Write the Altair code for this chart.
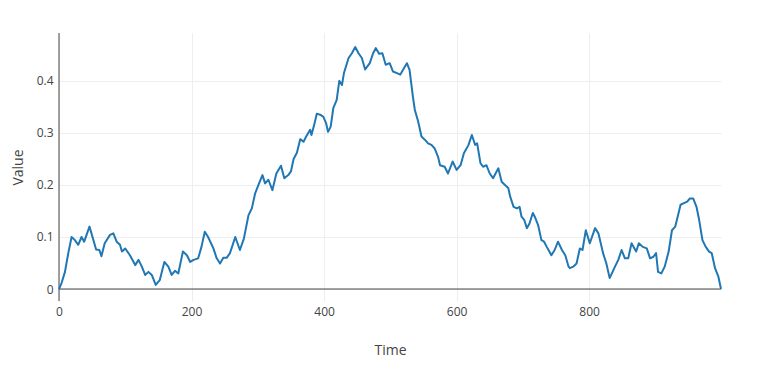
import altair as alt
import pandas as pd

time = [0, 4, 9, 14, 19, 24, 29, 34, 38, 46, 49, 56, 61, 64, 69, 77, 82, 87, 92, 95,
        100, 107, 115, 120, 125, 130, 135, 140, 146, 152, 159, 165, 170, 175, 180, 187,
        193, 198, 203, 210, 215, 220, 225, 233, 238, 243, 248, 253, 258, 266, 273, 279,
        286, 291, 296, 301, 307, 311, 316, 322, 328, 335, 340, 346, 350, 354, 359, 364,
        369, 373, 379, 381, 385, 389, 394, 399, 403, 406, 410, 414, 419, 423, 427, 430,
        437, 442, 447, 452, 457, 462, 469, 474, 478, 483, 488, 493, 499, 504, 510, 515,
        519, 525, 529, 534, 537, 542, 547, 552, 557, 562, 567, 572, 575, 582, 587, 594,
        600, 606, 611, 618, 623, 628, 631, 636, 640, 645, 650, 655, 663, 668, 673, 678,
        681, 686, 691, 695, 698, 702, 706, 710, 715, 718, 723, 728, 732, 736, 740, 743,
        748, 753, 759, 764, 769, 771, 776, 781, 786, 790, 795, 801, 809, 814, 821, 826,
        831, 839, 844, 849, 854, 859, 864, 871, 875, 881, 887, 892, 897, 901, 904, 909,
        914, 920, 925, 930, 935, 938, 943, 948, 952, 957, 962, 966, 971, 976, 981, 985,
        990, 995, 999]
value = [0.0, 0.012, 0.033, 0.069, 0.100, 0.094, 0.085, 0.100, 0.091, 0.120, 0.107,
         0.076, 0.075, 0.063, 0.088, 0.104, 0.107, 0.091, 0.085, 0.072, 0.078, 0.065,
         0.046, 0.056, 0.043, 0.027, 0.033, 0.027, 0.008, 0.017, 0.052, 0.043, 0.027,
         0.035, 0.030, 0.072, 0.065, 0.052, 0.056, 0.059, 0.081, 0.110, 0.100, 0.078,
         0.059, 0.049, 0.060, 0.060, 0.069, 0.100, 0.075, 0.097, 0.142, 0.155, 0.184,
         0.200, 0.219, 0.203, 0.210, 0.190, 0.222, 0.237, 0.213, 0.219, 0.226, 0.250,
         0.262, 0.288, 0.283, 0.293, 0.306, 0.296, 0.315, 0.337, 0.335, 0.331, 0.319,
         0.302, 0.312, 0.348, 0.363, 0.400, 0.392, 0.415, 0.444, 0.453, 0.465, 0.453,
         0.444, 0.422, 0.434, 0.453, 0.463, 0.452, 0.453, 0.431, 0.434, 0.418, 0.415,
         0.412, 0.421, 0.434, 0.421, 0.370, 0.344, 0.322, 0.293, 0.287, 0.280, 0.277,
         0.270, 0.254, 0.238, 0.235, 0.222, 0.245, 0.229, 0.238, 0.261, 0.277, 0.296,
         0.277, 0.280, 0.242, 0.235, 0.238, 0.222, 0.213, 0.232, 0.206, 0.200, 0.194,
         0.177, 0.158, 0.155, 0.158, 0.139, 0.133, 0.117, 0.126, 0.146, 0.139, 0.123,
         0.094, 0.091, 0.081, 0.072, 0.065, 0.075, 0.091, 0.075, 0.065, 0.043, 0.040,
         0.043, 0.049, 0.078, 0.075, 0.113, 0.088, 0.117, 0.107, 0.069, 0.049, 0.021,
         0.043, 0.056, 0.075, 0.059, 0.059, 0.088, 0.072, 0.088, 0.081, 0.078, 0.059,
         0.062, 0.069, 0.033, 0.030, 0.043, 0.072, 0.113, 0.120, 0.146, 0.162, 0.165,
         0.168, 0.174, 0.174, 0.158, 0.133, 0.094, 0.081, 0.072, 0.069, 0.040, 0.024,
         0.0]

x_ticks = [0, 200, 400, 600, 800]
y_ticks = [0, 0.1, 0.2, 0.3, 0.4]

df = pd.DataFrame({"Time": time, "Value": value})

FONT = "Open Sans"
INK = "#444444"

x_scale = alt.Scale(domain=[0, 999], nice=False, zero=False)
y_scale = alt.Scale(domain=[-0.023, 0.492], nice=False, zero=False)

line = alt.Chart(df).mark_line(color="#1f77b4", strokeWidth=2, strokeJoin="round").encode(
    x=alt.X("Time:Q", scale=x_scale,
            axis=alt.Axis(values=x_ticks, title="Time", grid=True, gridColor="#eeeeee",
                          domain=False, ticks=False, labelPadding=5, labelFontSize=12,
                          labelColor=INK, labelFont=FONT, titleFont=FONT, titleFontSize=14,
                          titleFontWeight="normal", titleColor=INK, titlePadding=26,
                          labelFlush=False)),
    y=alt.Y("Value:Q", scale=y_scale,
            axis=alt.Axis(values=y_ticks, title="Value", format="~g", grid=True,
                          gridColor="#eeeeee", domain=False, ticks=False, labelPadding=6,
                          labelFontSize=12, labelColor=INK, labelFont=FONT, titleFont=FONT,
                          titleFontSize=14, titleFontWeight="normal", titleColor=INK,
                          titlePadding=11)),
)

zero_y = alt.Chart(pd.DataFrame({"v": [0]})).mark_rule(color=INK, strokeWidth=1).encode(
    y=alt.Y("v:Q", scale=y_scale))
zero_x = alt.Chart(pd.DataFrame({"t": [0]})).mark_rule(color=INK, strokeWidth=1).encode(
    x=alt.X("t:Q", scale=x_scale))

chart = alt.layer(zero_y, zero_x, line).properties(
    width=662, height=268,
    autosize=alt.AutoSizeParams(type="none"),
    padding={"left": 51, "top": 25, "right": 40, "bottom": 60},
).configure_view(stroke=None)

chart.save("out.html", embed_options={"renderer": "svg", "actions": False})
